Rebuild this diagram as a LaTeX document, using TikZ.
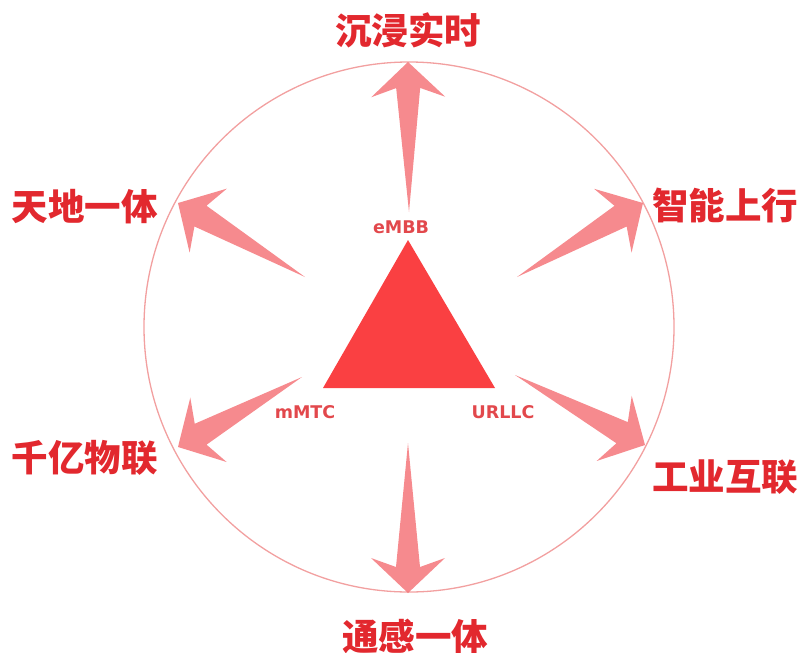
\documentclass[tikz,border=0pt]{standalone}
\usepackage{fontspec}
\newfontfamily\cjk{Noto Sans CJK SC}
\newfontfamily\lab{DejaVu Sans}
\usetikzlibrary{calc}
\definecolor{lblred}{RGB}{226,40,46}
\definecolor{arrowpink}{RGB}{244,118,122}
\definecolor{circlepink}{RGB}{242,160,160}
\definecolor{trired}{RGB}{250,64,66}
\definecolor{smallred}{RGB}{226,72,76}
\tikzset{
  biglabel/.style={font=\cjk\bfseries\fontsize{36.5}{40}\selectfont, text=lblred, inner sep=0pt},
  techlabel/.style={font=\lab\bfseries\fontsize{17.5}{20}\selectfont, text=smallred, inner sep=0pt},
  fatarrowstyle/.style={fill=arrowpink, fill opacity=0.85, draw=none},
  ringstyle/.style={draw=circlepink, line width=1.3pt},
}
\newcommand\fatarrow[2]{%
  \coordinate (J) at ($(#2)!26pt!(#1)$);
  \coordinate (Bb) at ($(#2)!35pt!(#1)$);
  \fill[fatarrowstyle] (#1) -- ($(J)!12pt!-90:(#2)$) -- ($(Bb)!37pt!-90:(#2)$) -- (#2)
     -- ($(Bb)!37pt!90:(#2)$) -- ($(J)!12pt!90:(#2)$) -- cycle;
}
\begin{document}
\begin{tikzpicture}[x=1pt,y=-1pt]
\useasboundingbox (0,0) rectangle (803,653);
% ring
\coordinate (ctr) at (409,327);
\draw[ringstyle] (ctr) circle (265pt);
% triangle
\coordinate (apex) at (408,240);
\coordinate (bl) at (323,388);
\coordinate (br) at (495,388);
\fill[trired] (apex) -- (bl) -- (br) -- cycle;
% arrow ends
\coordinate (t1) at (409,212); \coordinate (h1) at (408,62);
\coordinate (t2) at (305,277); \coordinate (h2) at (178,203);
\coordinate (t3) at (517,277); \coordinate (h3) at (643,203);
\coordinate (t4) at (302,377); \coordinate (h4) at (178,447);
\coordinate (t5) at (515,375); \coordinate (h5) at (645,445);
\coordinate (t6) at (408,443); \coordinate (h6) at (408,593);
\fatarrow{t1}{h1}
\fatarrow{t2}{h2}
\fatarrow{t3}{h3}
\fatarrow{t4}{h4}
\fatarrow{t5}{h5}
\fatarrow{t6}{h6}
% labels
\node[biglabel] (l1) at (408,30) {沉浸实时};
\node[biglabel] (l2) at (85,207) {天地一体};
\node[biglabel] (l3) at (725,205) {智能上行};
\node[biglabel] (l4) at (85,458) {千亿物联};
\node[biglabel] (l5) at (725,477) {工业互联};
\node[biglabel] (l6) at (415,636) {通感一体};
\node[techlabel] (e) at (401,227) {eMBB};
\node[techlabel] (m) at (305,412) {mMTC};
\node[techlabel] (u) at (503,412) {URLLC};
\end{tikzpicture}
\end{document}
